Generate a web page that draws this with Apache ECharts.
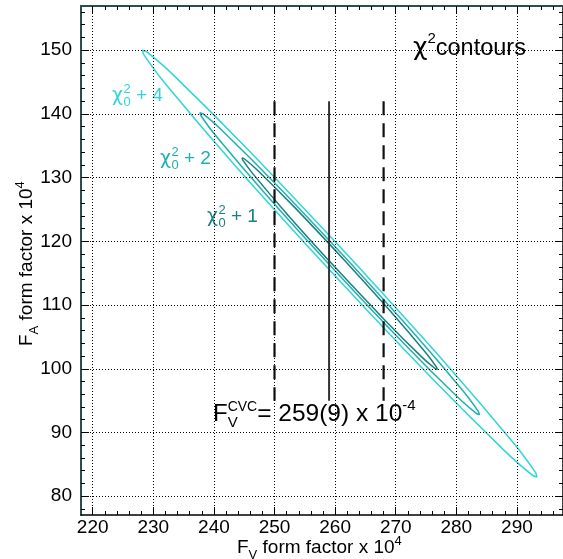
<!DOCTYPE html>
<html><head><meta charset="utf-8">
<script src="https://cdn.jsdelivr.net/npm/echarts@6/dist/echarts.min.js"></script>
<style>html,body{margin:0;padding:0;background:#fff}#c{width:563px;height:559px}</style>
</head><body><div id="c"></div>
<script>
// ---- data ----
const xMajor = [220, 230, 240, 250, 260, 270, 280, 290];
const xMinor = [218, 220, 222, 224, 226, 228, 230, 232, 234, 236, 238, 240, 242, 244, 246, 248, 250, 252, 254, 256, 258, 260, 262, 264, 266, 268, 270, 272, 274, 276, 278, 280, 282, 284, 286, 288, 290, 292, 294, 296];
const yMajor = [80, 90, 100, 110, 120, 130, 140, 150];
const yMinor = [78, 80, 82, 84, 86, 88, 90, 92, 94, 96, 98, 100, 102, 104, 106, 108, 110, 112, 114, 116, 118, 120, 122, 124, 126, 128, 130, 132, 134, 136, 138, 140, 142, 144, 146, 148, 150, 152, 154, 156];
const xRange = [218.07, 297.6];
const yRange = [77.05, 156.94];

// contour outlines
const chi2plus4 = [[262.10,117.81],[245.64,134.38],[233.24,146.17],[228.93,149.73],[228.20,150.00],[228.46,149.27],[231.89,144.86],[243.30,132.12],[259.40,115.19],[275.86,98.62],[288.27,86.84],[292.58,83.27],[293.30,83.00],[293.05,83.73],[289.61,88.15],[278.20,100.88],[262.10,117.81]];
const chi2plus2 = [[261.70,117.42],[250.04,129.15],[241.27,137.48],[238.22,140.00],[237.70,140.20],[237.89,139.68],[240.32,136.56],[248.40,127.55],[259.80,115.58],[271.46,103.85],[280.24,95.52],[283.29,93.00],[283.80,92.80],[283.62,93.32],[281.19,96.44],[273.10,105.45],[261.70,117.42]];
const chi2plus1 = [[261.42,117.16],[253.28,125.37],[247.15,131.21],[245.01,132.97],[244.65,133.10],[244.77,132.74],[246.48,130.55],[252.12,124.23],[260.08,115.84],[268.22,107.63],[274.36,101.79],[276.49,100.04],[276.85,99.90],[276.73,100.27],[275.03,102.45],[269.38,108.77],[261.42,117.16]];

const cvcValue = 259;
const cvcError = 9;
const cvcLineY = [142, 95];

// ---- helpers ----
const FAM = '"Liberation Sans", Arial, Helvetica, sans-serif';
const GFAM = '"DejaVu Sans", "Liberation Sans", sans-serif';
const mctx = document.createElement('canvas').getContext('2d');
function tw(t, s, f) { mctx.font = s + 'px ' + (f || FAM); return mctx.measureText(t).width; }
function run(parts, color) {
  let x = 0, pend = 0;
  const out = [];
  parts.forEach(p => {
    const w = tw(p.t, p.s, p.f);
    out.push({
      type: 'text', silent: true,
      style: { text: p.t, x: x + (p.dx || 0), y: (p.dy || 0) - 0.31 * p.s,
        fontSize: p.s, fontFamily: p.f || FAM, fill: p.c || color, align: 'left', verticalAlign: 'middle' }
    });
    if (p.stack) { pend = Math.max(pend, w); } else { x += Math.max(w, pend) + (p.gap || 0); pend = 0; }
  });
  return out;
}
function label(x, y, parts, color, rot) {
  return { type: 'group', x: x, y: y, rotation: rot || 0, children: run(parts, color) };
}

const C4 = '#30d5d5', C2 = '#1fb0b0', C1 = '#1b8080';

function chiLabel(n, size) {
  return [
    { t: 'χ', s: size, f: GFAM, gap: 0.5 },
    { t: '2', s: size * 0.68, dy: -size * 0.45, stack: true },
    { t: '0', s: size * 0.68, dy: size * 0.22 },
    { t: ' + ' + n, s: size }
  ];
}

const tickX = (vals, pos, len, showLabel, lineStyle) => ({
  type: 'value', position: pos, min: xRange[0], max: xRange[1], gridIndex: 0,
  axisLine: lineStyle ? { show: true, onZero: false, lineStyle: lineStyle } : { show: false },
  axisTick: { show: true, inside: true, length: len, customValues: vals, lineStyle: { color: '#000', width: 1 } },
  axisLabel: showLabel ? { show: true, customValues: vals, fontSize: 19, color: '#000', fontFamily: FAM, margin: 3 } : { show: false },
  splitLine: { show: false }
});
const tickY = (vals, pos, len, showLabel, lineStyle) => ({
  type: 'value', position: pos, min: yRange[0], max: yRange[1], gridIndex: 0,
  axisLine: lineStyle ? { show: true, onZero: false, lineStyle: lineStyle } : { show: false },
  axisTick: { show: true, inside: true, length: len, customValues: vals, lineStyle: { color: '#000', width: 1 } },
  axisLabel: showLabel ? { show: true, customValues: vals, fontSize: 19, color: '#000', fontFamily: FAM, margin: 9 } : { show: false },
  splitLine: { show: false }
});

const xAxes = [
  tickX(xMajor, 'bottom', 8, true, { color: '#000', width: 1.5 }),
  tickX(xMinor, 'bottom', 4, false, null),
  tickX(xMajor, 'top', 8, false, { color: '#2a4d4d', width: 2 }),
  tickX(xMinor, 'top', 4, false, null)
];
const yAxes = [
  tickY(yMajor, 'left', 8, true, { color: '#2a4d4d', width: 2 }),
  tickY(yMinor, 'left', 4, false, null),
  tickY(yMajor, 'right', 8, false, { color: '#000', width: 1.5 }),
  tickY(yMinor, 'right', 4, false, null)
];

const gridLineSeries = {
  type: 'line', data: [], xAxisIndex: 0, yAxisIndex: 0, silent: true,
  markLine: {
    silent: true, symbol: 'none', label: { show: false }, animation: false,
    lineStyle: { color: '#000', width: 1, type: [1, 2] },
    data: xMajor.map(v => ({ xAxis: v })).concat(yMajor.map(v => ({ yAxis: v })))
  }
};

function contour(data, color) {
  return { type: 'line', data: data, xAxisIndex: 0, yAxisIndex: 0, showSymbol: false, smooth: 0.35,
    lineStyle: { color: color, width: 1.5 }, silent: true, clip: false, z: 3 };
}
function vline(x, dashed) {
  return { type: 'line', data: [[x, cvcLineY[0]], [x, cvcLineY[1]]], xAxisIndex: 0, yAxisIndex: 0,
    showSymbol: false, silent: true, z: 4,
    lineStyle: { color: dashed ? '#111' : '#333', width: dashed ? 2.2 : 2, type: dashed ? [14, 8] : 'solid' } };
}

const option = {
  animation: false,
  backgroundColor: '#fff',
  grid: { left: 81, right: 0, top: 6, bottom: 44, containLabel: false },
  xAxis: xAxes,
  yAxis: yAxes,
  series: [
    gridLineSeries,
    vline(cvcValue - cvcError, true),
    vline(cvcValue, false),
    vline(cvcValue + cvcError, true),
    contour(chi2plus4, C4),
    contour(chi2plus2, C2),
    contour(chi2plus1, C1)
  ],
  graphic: [
    label(112, 102, chiLabel(4, 19), C4),
    label(160, 165, chiLabel(2, 19), C2),
    label(207, 223, chiLabel(1, 19), C1),
    label(413, 56, [
      { t: 'χ', s: 25, f: GFAM },
      { t: '2', s: 15, dy: -12 },
      { t: 'contours', s: 23.5 }
    ], '#000'),
    label(213, 422, [
      { t: 'F', s: 24 },
      { t: 'CVC', s: 14, dy: -11, stack: true },
      { t: 'V', s: 15, dy: 6 },
      { t: '= 259(9) x 10', s: 24.5 },
      { t: '-4', s: 15, dy: -11 }
    ], '#000'),
    label(237, 554, [
      { t: 'F', s: 19 },
      { t: 'V', s: 13, dy: 5 },
      { t: ' form factor x 10', s: 19 },
      { t: '4', s: 13, dy: -9 }
    ], '#000'),
    label(33, 346, [
      { t: 'F', s: 19 },
      { t: 'A', s: 13, dy: 5 },
      { t: ' form factor x 10', s: 19 },
      { t: '4', s: 13, dy: -9 }
    ], '#000', Math.PI / 2)
  ]
};

const chart = echarts.init(document.getElementById('c'), null, { renderer: 'canvas' });
chart.setOption(option);
</script>
</body></html>
